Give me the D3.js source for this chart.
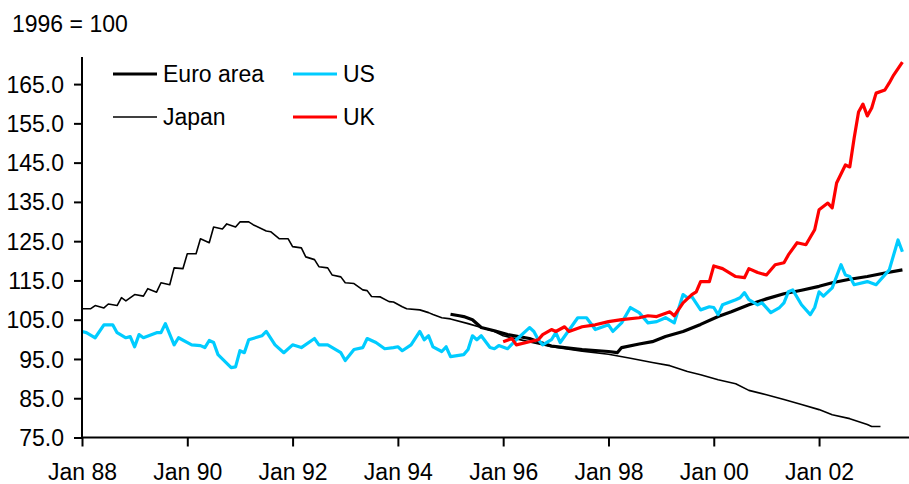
<!DOCTYPE html>
<meta charset="utf-8" />
<style>
  body { margin: 0; background: #fff; }
  text { font-family: "Liberation Sans", Arial, sans-serif; fill: #000; }
  .series { fill: none; stroke-linejoin: round; stroke-linecap: butt; }
  .axis path, .axis line { stroke: #000; stroke-width: 2; }
</style>
<svg width="909" height="484"></svg>
<script src="https://d3js.org/d3.v7.min.js"></script>
<script>
  // months since Jan 1988, index value (1996 = 100)
  const japan = [
    [0, 107.8], [2, 107.8], [3, 108.6], [5, 108.0], [6, 109.0], [8, 108.6],
    [9, 110.6], [10, 109.8], [12, 111.4], [14, 111.0], [15, 112.9], [17, 112.0],
    [18, 114.4], [20, 113.9], [21, 118.2], [23, 118.0], [24, 121.8], [26, 121.8],
    [27, 125.6], [29, 124.6], [30, 128.6], [32, 128.1], [33, 129.4], [35, 128.6],
    [36, 129.9], [38, 129.9], [39, 129.2], [42, 127.6], [43, 127.4], [45, 125.6],
    [47, 125.6], [48, 123.6], [50, 123.3], [51, 121.0], [53, 120.3], [54, 118.5],
    [56, 118.2], [57, 116.4], [59, 115.9], [60, 114.4], [62, 114.2], [64, 112.6],
    [65, 112.4], [66, 110.9], [68, 110.8], [70, 109.6], [71, 109.5], [73, 108.3],
    [74, 107.8], [77, 107.5], [79, 106.8], [80, 106.3], [82, 105.5], [84, 105.2],
    [88, 104.0], [91, 103.0], [94, 102.0], [96, 100.9], [101, 99.6], [107, 98.1],
    [114, 97.0], [120, 96.2], [125, 95.2], [130, 94.1], [134, 93.3], [138, 91.8],
    [141, 91.0], [145, 89.7], [149, 88.7], [152, 87.0], [156, 85.9], [160, 84.7],
    [164, 83.4], [168, 82.1], [171, 80.8], [175, 79.8], [179, 78.3], [180, 77.8],
    [182, 77.8]
  ];

  const us = [
    [0, 102.0], [1, 101.7], [3, 100.4], [5, 103.7], [7, 103.7], [8, 101.7],
    [10, 100.4], [11, 100.7], [12, 98.1], [13, 101.2], [14, 100.4], [17, 101.7],
    [18, 101.7], [19, 104.0], [21, 98.6], [22, 100.4], [25, 98.6], [27, 98.4],
    [28, 97.9], [29, 99.7], [30, 99.2], [31, 96.1], [34, 92.8], [35, 93.0],
    [36, 97.1], [37, 96.6], [38, 99.9], [41, 100.9], [42, 102.0], [44, 98.6],
    [46, 96.6], [48, 98.6], [50, 97.9], [53, 100.2], [54, 98.6], [56, 98.6],
    [59, 96.6], [60, 94.6], [62, 97.4], [64, 97.9], [65, 100.2], [67, 99.2],
    [69, 97.6], [71, 97.9], [72, 98.1], [73, 97.1], [75, 98.6], [77, 102.0],
    [78, 99.9], [79, 100.9], [80, 98.1], [82, 96.9], [83, 98.1], [84, 95.6],
    [87, 96.1], [88, 97.4], [89, 100.9], [90, 99.9], [91, 100.9], [93, 97.9],
    [94, 97.6], [95, 98.4], [97, 97.6], [99, 99.9], [102, 103.0], [103, 102.0],
    [104, 99.9], [105, 98.6], [107, 99.9], [108, 101.7], [109, 99.2], [113, 105.5],
    [115, 105.5], [117, 102.5], [120, 103.7], [121, 102.0], [123, 104.2], [125, 108.1],
    [127, 106.8], [129, 104.2], [131, 104.5], [133, 105.5], [135, 104.2], [137, 111.4],
    [138, 110.6], [139, 110.9], [141, 107.5], [143, 108.3], [144, 108.1], [145, 106.3],
    [146, 108.8], [149, 110.1], [150, 110.6], [151, 111.9], [152, 110.1], [154, 108.8],
    [155, 109.3], [157, 106.8], [159, 108.1], [160, 109.3], [161, 112.1], [162, 112.6],
    [164, 108.8], [166, 106.3], [167, 108.1], [168, 112.1], [169, 111.0], [171, 113.1],
    [173, 119.0], [174, 116.4], [175, 116.0], [176, 113.9], [179, 114.7], [181, 113.9],
    [184, 117.7], [186, 125.3], [187, 122.3]
  ];

  const euro = [
    [84, 106.4], [86, 106.0], [87, 105.8], [89, 105.0], [91, 103.0], [94, 102.2],
    [97, 101.2], [102, 100.2], [104, 99.4], [107, 98.3], [114, 97.4], [120, 96.9],
    [122, 96.6], [123, 97.9], [127, 98.8], [130, 99.4], [133, 100.7], [137, 102.0],
    [141, 103.8], [145, 105.8], [148, 107.0], [152, 108.8], [156, 110.3], [160, 111.6],
    [164, 112.5], [168, 113.5], [171, 114.4], [175, 115.3], [179, 116.0], [183, 116.9],
    [187, 117.7]
  ];

  const uk = [
    [96, 99.4], [98, 100.2], [99, 98.6], [102, 99.4], [104, 99.9], [105, 101.2],
    [107, 102.5], [108, 102.0], [110, 103.2], [111, 102.0], [114, 103.2], [117, 103.7],
    [120, 104.5], [123, 105.0], [127, 105.5], [129, 106.0], [131, 105.8], [134, 107.0],
    [135, 106.0], [137, 109.3], [139, 111.4], [140, 112.1], [141, 114.7], [143, 114.7],
    [144, 118.7], [146, 118.0], [149, 116.0], [151, 115.7], [152, 118.0], [154, 117.0],
    [156, 116.4], [158, 119.0], [160, 119.5], [161, 121.5], [163, 124.6], [165, 124.1],
    [167, 127.9], [168, 133.0], [170, 134.7], [171, 133.5], [172, 139.8], [174, 144.4],
    [175, 143.9], [176, 151.3], [177, 157.9], [178, 159.9], [179, 156.9], [180, 158.9],
    [181, 162.7], [183, 163.5], [184, 165.3], [185, 167.3], [187, 170.6]
  ];

  const xTickMonths = [0, 24, 48, 72, 96, 120, 144, 168];
  const xTickLabels = ['Jan 88', 'Jan 90', 'Jan 92', 'Jan 94', 'Jan 96', 'Jan 98', 'Jan 00', 'Jan 02'];
  const yTicks = [75, 85, 95, 105, 115, 125, 135, 145, 155, 165];

  const series = [
    { name: 'Japan', data: japan, color: '#000', width: 1.6 },
    { name: 'Euro area', data: euro, color: '#000', width: 3.2 },
    { name: 'US', data: us, color: '#00CCFF', width: 3.2 },
    { name: 'UK', data: uk, color: '#FF0000', width: 3.2 }
  ];

  const svg = d3.select('svg');

  const x = d3.scaleLinear().domain([0, 188.5]).range([82, 909]);
  const y = d3.scaleLinear().domain([75, 171.9]).range([437.5, 57]);

  const line = d3.line()
    .x(function (d) { return x(d[0]); })
    .y(function (d) { return y(d[1]); });

  svg.append('g')
    .selectAll('path')
    .data(series)
    .join('path')
    .attr('class', 'series')
    .attr('stroke', function (d) { return d.color; })
    .attr('stroke-width', function (d) { return d.width; })
    .attr('d', function (d) { return line(d.data); });

  // y axis
  const yAxis = svg.append('g')
    .attr('class', 'axis')
    .attr('transform', 'translate(82,0)')
    .call(d3.axisLeft(y).tickValues(yTicks).tickSize(8).tickPadding(10).tickFormat(d3.format('.1f')));
  yAxis.select('.domain').attr('d', 'M0,' + y.range()[1] + 'V' + y.range()[0]);
  yAxis.selectAll('text').attr('font-size', 23).attr('dy', '0.35em');

  // x axis
  const xAxis = svg.append('g')
    .attr('class', 'axis')
    .attr('transform', 'translate(0,437.5)')
    .call(d3.axisBottom(x).tickValues(xTickMonths).tickSize(9).tickPadding(17)
      .tickFormat(function (d, i) { return xTickLabels[i]; }));
  xAxis.select('.domain').attr('d', 'M' + x.range()[0] + ',0H' + x.range()[1]);
  xAxis.selectAll('text').attr('font-size', 23);

  svg.append('text')
    .attr('x', 12)
    .attr('y', 32)
    .attr('font-size', 23)
    .text('1996 = 100');

  // legend, two columns
  const legendPos = {
    'Euro area': [113, 74],
    'Japan': [113, 117],
    'US': [293, 74],
    'UK': [293, 117]
  };
  const legend = svg.append('g')
    .selectAll('g')
    .data(series)
    .join('g')
    .attr('transform', function (d) { return 'translate(' + legendPos[d.name] + ')'; });
  legend.append('line')
    .attr('x1', 0).attr('x2', 44)
    .attr('stroke', function (d) { return d.color; })
    .attr('stroke-width', function (d) { return d.width; });
  legend.append('text')
    .attr('x', 50)
    .attr('dy', '0.35em')
    .attr('font-size', 23)
    .text(function (d) { return d.name; });
</script>
